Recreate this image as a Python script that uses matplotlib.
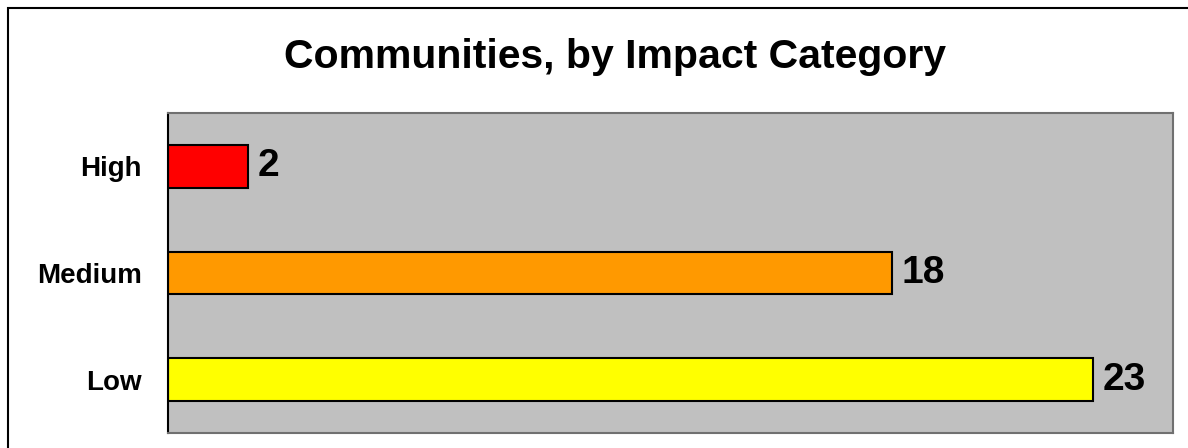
import matplotlib.pyplot as plt
from matplotlib.patches import Rectangle

# data
categories = ["Low", "Medium", "High"]
counts = [23, 18, 2]
bar_colors = ["#FFFF00", "#FF9900", "#FF0000"]

plt.rcParams['font.family'] = ['Liberation Sans', 'DejaVu Sans']

fig = plt.figure(figsize=(11.88, 4.48), dpi=100)
ax = fig.add_axes([168/1188, 15/448, 1005/1188, 320/448])
ax.set_facecolor("#C0C0C0")

bars = ax.barh(categories, counts, height=0.4, color=bar_colors,
               edgecolor="black", linewidth=1.5)

for bar, val in zip(bars, counts):
    ax.annotate(str(val), (bar.get_width(), bar.get_y() + bar.get_height()/2),
                xytext=(7, 0), textcoords="offset points",
                ha="left", va="center", fontsize=28, fontweight="bold")

ax.set_xlim(0, 25)
ax.set_ylim(-0.5, 2.5)
ax.set_xticks([])
ax.tick_params(axis="y", length=0, pad=19)
for lbl in ax.get_yticklabels():
    lbl.set_fontsize(20)
    lbl.set_fontweight("bold")

ax.spines["left"].set_color("black")
ax.spines["left"].set_linewidth(1.5)
for s in ["top", "right", "bottom"]:
    ax.spines[s].set_color("#707070")
    ax.spines[s].set_linewidth(1.5)

fig.text(615/1188, 1 - 68/448, "Communities, by Impact Category",
         ha="center", va="baseline", fontsize=29.5, fontweight="bold")

# outer chart border (cut off at right and bottom)
fig.patches.append(Rectangle((8/1188, -0.1), 1.2, 1 - 8/448 + 0.1,
                             transform=fig.transFigure, fill=False,
                             edgecolor="black", linewidth=1.5))

fig.savefig("out.png", dpi=100)
